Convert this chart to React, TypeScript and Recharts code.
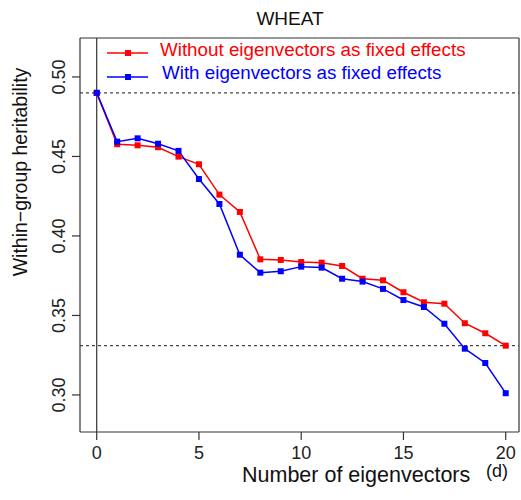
import React from 'react';
import { LineChart, Line, XAxis, YAxis, ReferenceLine } from 'recharts';

const steps = [0, 1, 2, 3, 4, 5, 6, 7, 8, 9, 10, 11, 12, 13, 14, 15, 16, 17, 18, 19, 20];
const withoutEig = [0.490, 0.4577, 0.4570, 0.4558, 0.4499, 0.4451, 0.4260, 0.4151, 0.3853, 0.3849, 0.3836, 0.3832, 0.3811, 0.3731, 0.3721, 0.3646, 0.3583, 0.3574, 0.3451, 0.3388, 0.3310];
const withEig = [0.490, 0.4593, 0.4614, 0.4580, 0.4535, 0.4358, 0.4201, 0.3882, 0.3769, 0.3778, 0.3807, 0.3801, 0.3731, 0.3713, 0.3667, 0.3597, 0.3553, 0.3448, 0.3291, 0.3201, 0.3011];
const xTicks = [0, 5, 10, 15, 20];
const yTicks = [0.30, 0.35, 0.40, 0.45, 0.50];
const refLevels = [0.49, 0.331];
const seriesNames = ['Without eigenvectors as fixed effects', 'With eigenvectors as fixed effects'];

const X_DOMAIN = [-0.817, 20.65];
const Y_DOMAIN = [0.2767, 0.5245];
const FONT = '"Liberation Sans", Arial, Helvetica, sans-serif';
const AXIS = '#333';
const RED = '#ff0000';
const BLUE = '#0000ff';

const data = steps.map((d, i) => ({ d, without: withoutEig[i], with: withEig[i] }));

const squareDot = (color: string) => (props: any) => {
  const { cx, cy, index } = props;
  if (cx == null || cy == null) return <g key={index} />;
  return <rect key={index} x={cx - 3} y={cy - 3} width={6} height={6} fill={color} />;
};

const XTick = ({ x, payload }: any) => (
  <text x={x} y={459} textAnchor="middle" fontSize={18} fontFamily={FONT} fill="#222">
    {payload.value}
  </text>
);

const YTick = ({ y, payload }: any) => (
  <text transform={`translate(65, ${y}) rotate(-90)`} textAnchor="middle" fontSize={18} fontFamily={FONT} fill="#222">
    {Number(payload.value).toFixed(2)}
  </text>
);

export default function App() {
  return (
    <div style={{ position: 'absolute', left: 0, top: 0, width: 521, height: 500, background: '#fff' }}>
      <LineChart width={521} height={500} data={data} margin={{ top: 38, right: 2, bottom: 0, left: 0 }}>
        <XAxis
          dataKey="d"
          type="number"
          domain={X_DOMAIN}
          ticks={xTicks}
          allowDataOverflow
          height={68}
          tickSize={8}
          tick={<XTick />}
          axisLine={{ stroke: AXIS, strokeWidth: 1.2 }}
          tickLine={{ stroke: AXIS, strokeWidth: 1.2 }}
        />
        <YAxis
          type="number"
          domain={Y_DOMAIN}
          ticks={yTicks}
          allowDataOverflow
          width={80}
          tickSize={8}
          tick={<YTick />}
          axisLine={{ stroke: AXIS, strokeWidth: 1.2 }}
          tickLine={{ stroke: AXIS, strokeWidth: 1.2 }}
        />
        <ReferenceLine y={Y_DOMAIN[1]} stroke={AXIS} strokeWidth={1.2} ifOverflow="visible" />
        <ReferenceLine x={X_DOMAIN[1]} stroke={AXIS} strokeWidth={1.2} ifOverflow="visible" />
        <ReferenceLine x={0} stroke={AXIS} strokeWidth={1.2} />
        {refLevels.map((v) => (
          <ReferenceLine key={v} y={v} stroke="#444" strokeDasharray="3 3" strokeWidth={1.2} />
        ))}
        <Line dataKey="without" name={seriesNames[0]} stroke={RED} strokeWidth={1.5} dot={squareDot(RED)} isAnimationActive={false} />
        <Line dataKey="with" name={seriesNames[1]} stroke={BLUE} strokeWidth={1.5} dot={squareDot(BLUE)} isAnimationActive={false} />
      </LineChart>
      <svg width={521} height={500} style={{ position: 'absolute', left: 0, top: 0, pointerEvents: 'none' }}>
        <text x={290} y={25} textAnchor="middle" fontSize={19} fontFamily={FONT} fill="#111">WHEAT</text>
        {/* legend */}
        <line x1={107} x2={148} y1={53} y2={53} stroke={RED} strokeWidth={1.5} />
        <rect x={125} y={50} width={6} height={6} fill={RED} />
        <text x={160} y={56} fontSize={18.8} fontFamily={FONT} fill={RED}>{seriesNames[0]}</text>
        <line x1={107} x2={148} y1={77} y2={77} stroke={BLUE} strokeWidth={1.5} />
        <rect x={125} y={74} width={6} height={6} fill={BLUE} />
        <text x={162} y={79} fontSize={18.8} fontFamily={FONT} fill={BLUE}>{seriesNames[1]}</text>
        {/* axis titles */}
        <text x={242} y={482} fontSize={21.5} fontFamily={FONT} fill="#111">Number of eigenvectors</text>
        <text x={486} y={477} fontSize={18} fontFamily={FONT} fill="#111">(d)</text>
        <text transform="translate(27, 172) rotate(-90)" textAnchor="middle" fontSize={19.5} fontFamily={FONT} fill="#111">
          Within−group heritability
        </text>
      </svg>
    </div>
  );
}
